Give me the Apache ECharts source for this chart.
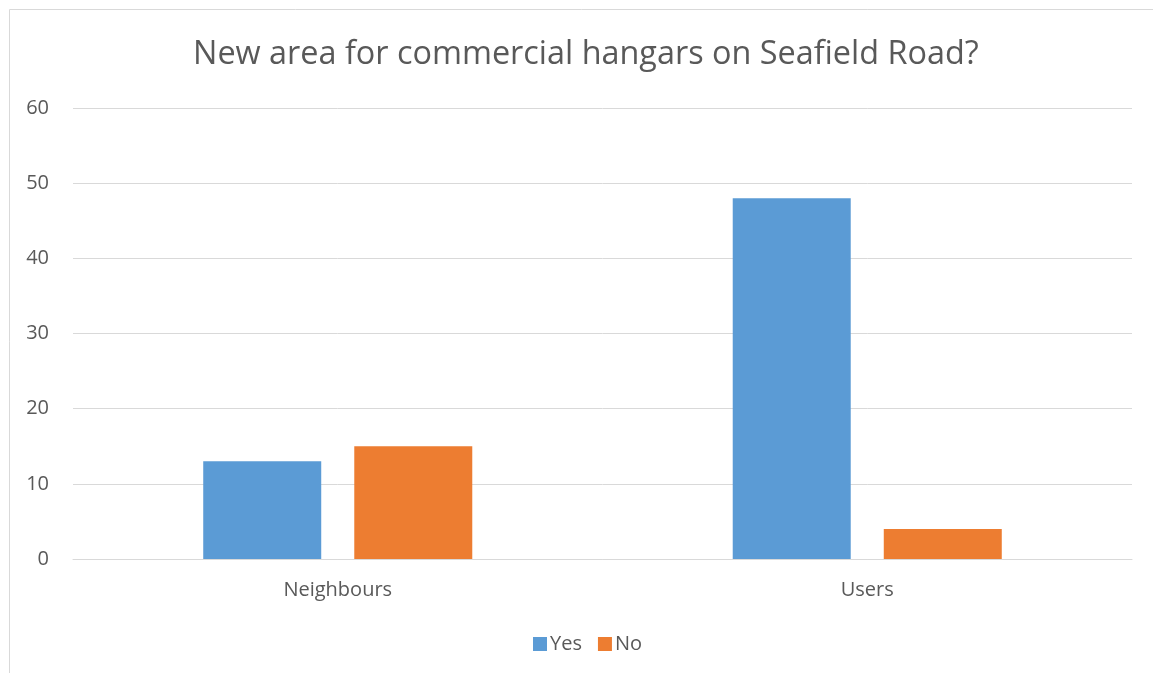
<!DOCTYPE html>
<html><head><meta charset="utf-8">
<script src="https://cdn.jsdelivr.net/npm/echarts@6/dist/echarts.min.js"></script>
<style>html,body{margin:0;padding:0;background:#fff}#c{width:1153px;height:673px}</style>
</head><body><div id="c"></div>
<script>
const categories = ['Neighbours', 'Users'];
const yesValues = [13, 48];
const noValues = [15, 4];
const titleText = 'New area for commercial hangars on Seafield Road?';
const font = 'Open Sans';
const chart = echarts.init(document.getElementById('c'));
chart.setOption({
  animation: false,
  graphic: [{type:'rect', shape:{x:9.5,y:9.5,width:1160,height:680}, style:{fill:'none',stroke:'#D9D9D9',lineWidth:1}, silent:true}],
  title: {text: titleText, left: 188, top: 34, textStyle:{fontFamily:font, fontSize:32.4, fontWeight:'normal', color:'#595959'}},
  legend: {bottom: 14, left: 528, itemWidth: 14, itemHeight: 14, itemGap: 16, icon: 'rect',
    textStyle:{fontFamily:font, fontSize:20, color:'#595959', padding:[0,0,0,-2]}},
  grid: {left: 73, right: 21, top: 108, bottom: 114, containLabel:false},
  xAxis: {type:'category', data: categories, axisTick:{show:false},
    axisLine:{lineStyle:{color:'#D9D9D9', width:1}},
    axisLabel:{fontFamily:font, fontSize:20, color:'#595959', margin:21}},
  yAxis: {type:'value', min:0, max:60, interval:10, axisLine:{show:false}, axisTick:{show:false},
    splitLine:{lineStyle:{color:'#D9D9D9', width:1}},
    axisLabel:{fontFamily:font, fontSize:20, color:'#595959', margin:24}},
  series: [
    {name:'Yes', type:'bar', data: yesValues, barWidth:118, barGap:'28%', itemStyle:{color:'#5B9BD5'}},
    {name:'No', type:'bar', data: noValues, barWidth:118, itemStyle:{color:'#ED7D31'}}
  ]
});
</script></body></html>
